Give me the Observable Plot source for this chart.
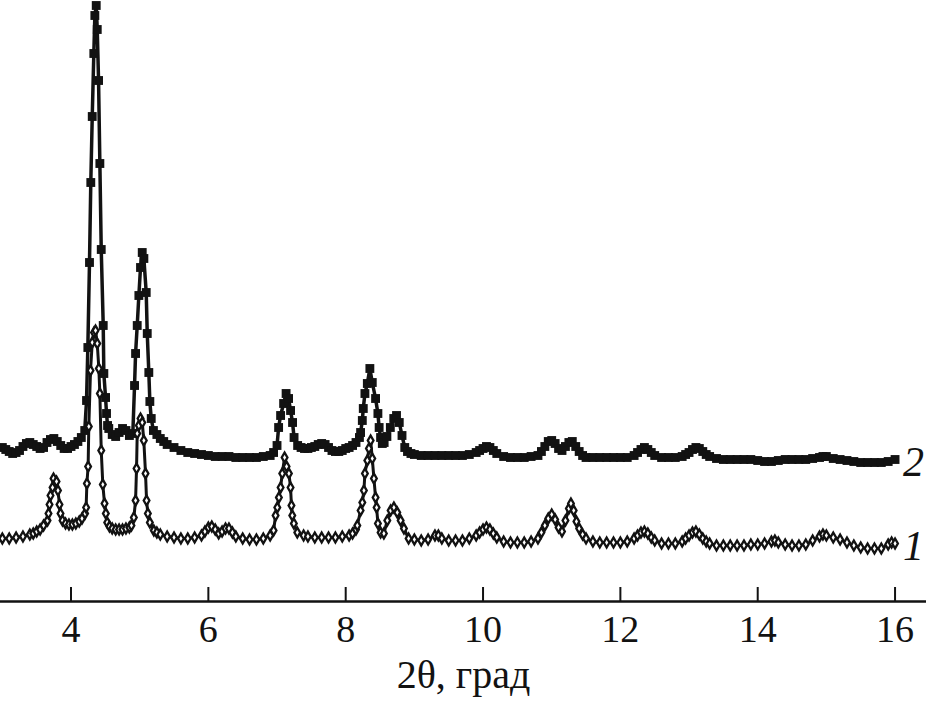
<!DOCTYPE html>
<html><head><meta charset="utf-8">
<script src="https://cdn.jsdelivr.net/npm/d3@7"></script>
<script src="https://cdn.jsdelivr.net/npm/@observablehq/plot@0.6"></script>
<style>body{margin:0;background:#fff;} #chart svg{display:block;}</style>
</head><body><div id="chart"></div>
<script>
// Curve 2 (filled squares): 2θ (deg) and intensity (arb. units)
const theta2 = [3.00,3.05,3.10,3.15,3.20,3.25,3.30,3.35,3.40,3.45,3.50,3.55,3.60,3.65,3.70,3.75,3.80,3.85,3.90,3.95,4.00,4.05,4.10,4.15,4.20,
4.226,4.245,4.269,4.288,4.309,4.332,4.347,4.367,4.382,4.401,4.420,4.440,4.469,4.478,4.503,4.517,4.532,
4.55,4.60,4.65,4.70,4.75,4.80,4.85,4.90,
4.925,4.940,4.964,4.988,5.012,5.037,5.061,5.095,5.110,5.133,5.148,5.168,5.20,
5.25,5.30,5.35,5.40,5.50,5.60,5.70,5.80,5.90,6.00,6.10,6.20,6.30,6.40,6.50,6.60,6.70,6.80,6.90,6.95,7.00,
7.023,7.052,7.096,7.132,7.168,7.197,7.226,7.248,
7.30,7.35,7.40,7.45,7.50,7.55,7.60,7.65,7.70,7.75,7.80,7.85,7.90,7.95,8.00,8.05,8.10,8.15,8.20,
8.217,8.242,8.256,8.280,8.315,8.352,8.387,8.435,8.469,8.487,8.508,8.533,
8.56,8.60,8.65,8.70,8.74,8.78,8.82,8.86,8.90,8.95,9.0,9.1,9.2,9.3,9.4,9.5,9.6,9.7,9.8,9.9,9.95,10.0,10.05,10.1,10.15,10.2,
10.3,10.4,10.5,10.6,10.7,10.8,10.85,10.9,10.95,11.0,11.05,11.1,11.15,11.2,11.25,11.3,11.35,11.4,11.45,11.5,
11.6,11.7,11.8,11.9,12.0,12.1,12.2,12.25,12.3,12.35,12.4,12.45,12.5,12.6,12.7,12.8,12.9,12.95,13.0,13.05,13.1,13.15,13.2,13.25,13.3,
13.4,13.5,13.6,13.7,13.8,13.9,14.0,14.1,14.2,14.3,14.4,14.5,14.6,14.7,14.8,14.9,14.95,15.0,15.1,15.2,15.3,15.4,15.5,15.6,15.7,15.8,15.9,16.0];
const int2 = [154,152,150,148,149,151,155,158,159,157,155,153,154,159,162,163,160,156,153,153,155,157,160,164,171,
201,254,339,419,485,548,586,596,572,521,438,352,276,228,204,188,176,
173,167,165,169,173,171,166,168,
216,248,276,306,334,349,343,309,268,229,200,183,171,
167,163,160,157,154,151,149,148,147,146,145,145,145,144,144,144,144,145,146,149,156,
174,186,198,208,203,191,179,164,
156,154,153,153,154,155,157,158,157,154,151,150,150,151,153,154,156,159,164,
169,181,193,208,218,233,219,203,188,174,164,158,
159,165,174,183,186,179,166,154,150,148,147,146,146,146,146,146,146,146,147,149,151,153,155,154,151,148,
145,144,144,144,145,146,150,155,160,161,158,153,151,155,159,160,155,150,146,144,
144,144,144,144,144,144,146,149,152,154,152,149,146,144,144,144,145,147,149,152,154,153,150,147,145,
143,142,142,142,142,142,141,140,140,141,142,142,142,142,143,144,145,145,143,142,141,140,139,139,139,139,140,142];

// Curve 1 (open diamonds)
const theta1 = [3.00,3.1,3.2,3.3,3.4,3.45,3.5,3.55,3.6,3.658,3.672,3.687,3.701,3.731,3.745,3.789,3.81,3.832,3.847,3.876,
3.92,3.97,4.02,4.07,4.12,4.16,4.205,4.220,4.231,4.249,4.259,4.284,4.309,4.335,4.357,4.382,4.405,4.420,4.440,4.463,4.488,4.507,4.527,
4.56,4.6,4.65,4.7,4.75,4.8,4.85,4.88,4.915,4.940,4.954,4.964,4.988,5.012,5.037,5.060,5.085,5.100,5.119,5.148,5.206,
5.25,5.3,5.4,5.5,5.6,5.7,5.8,5.9,5.95,6.0,6.05,6.1,6.15,6.2,6.25,6.3,6.35,6.4,6.5,6.6,6.7,6.8,6.9,6.95,
6.979,7.004,7.027,7.052,7.076,7.110,7.139,7.173,7.197,7.21,7.222,7.245,7.295,7.387,
7.45,7.55,7.65,7.75,7.85,7.95,8.05,8.1,8.15,8.169,8.217,8.242,8.265,8.280,8.315,8.338,8.363,8.387,8.411,8.435,8.450,8.469,8.508,
8.556,8.606,8.654,8.702,8.751,8.800,8.848,8.916,9.0,9.1,9.2,9.3,9.35,9.4,9.5,9.6,9.7,9.8,9.9,9.95,10.0,10.05,10.1,10.15,10.2,
10.3,10.4,10.5,10.6,10.7,10.8,10.85,10.9,10.95,11.0,11.05,11.1,11.15,11.2,11.25,11.28,11.32,11.36,11.4,11.45,11.5,
11.6,11.7,11.8,11.9,12.0,12.1,12.2,12.25,12.3,12.35,12.4,12.45,12.5,12.6,12.7,12.8,12.9,12.95,13.0,13.05,13.1,13.15,13.2,13.25,13.3,
13.4,13.5,13.6,13.7,13.8,13.9,14.0,14.1,14.2,14.25,14.3,14.4,14.5,14.6,14.7,14.8,14.9,14.95,15.0,15.1,15.2,15.3,15.4,15.5,15.6,15.7,15.8,15.9,15.95,16.0];
const int1 = [63,63,64,65,67,68,70,72,76,81,88,97,106,114,123,120,111,97,88,81,
78,77,77,78,80,83,88,94,118,135,175,231,259,269,271,258,233,208,151,117,98,88,79,
75,73,72,72,72,73,74,76,84,101,133,168,176,183,179,161,128,101,88,79,71,
69,67,65,64,63,63,64,66,70,74,75,72,68,70,73,73,69,65,63,62,62,63,66,71,
86,94,104,114,128,144,135,128,114,96,86,78,69,66,
65,64,64,64,64,65,66,68,72,76,91,99,111,128,141,153,161,143,123,104,94,78,69,
68,81,91,94,89,81,73,63,62,61,62,66,66,63,61,61,61,63,66,69,72,74,72,68,64,
60,59,59,59,60,63,69,76,83,87,82,74,70,81,93,98,91,80,73,67,63,
60,59,59,59,59,60,63,66,69,70,68,64,61,58,58,58,60,63,66,69,70,67,63,60,58,
56,56,56,56,56,57,57,58,60,61,59,57,56,56,57,61,65,67,66,64,62,59,56,54,53,53,53,57,59,58];

const xTicks = [4, 6, 8, 10, 12, 14, 16];
const xLabel = "2θ, град";
const curveNames = ["2", "1"];

const s2 = theta2.map((t, i) => ({t, v: int2[i]}));
const s1 = theta1.map((t, i) => ({t, v: int1[i]}));
const ends = [{...s2[s2.length - 1], name: curveNames[0]}, {...s1[s1.length - 1], name: curveNames[1]}];

const ink = "#121212";
const chart = Plot.plot({
  width: 926, height: 703,
  marginTop: 0, marginLeft: 0, marginRight: 0, marginBottom: 102,
  x: {domain: [2.973, 16.458]},
  y: {domain: [0, 601], axis: null},
  style: {fontFamily: "'Liberation Serif', 'Times New Roman', serif", background: "#fff", color: ink},
  marks: [
    Plot.ruleY([0], {stroke: ink, strokeWidth: 2.5}),
    Plot.ruleX(xTicks, {y1: 0, y2: 14, stroke: ink, strokeWidth: 2}),
    Plot.axisX({ticks: xTicks, tickSize: 0, tickPadding: 14, fontSize: 38, tickFormat: d => String(d), label: null}),
    Plot.line(s2, {x: "t", y: "v", stroke: ink, strokeWidth: 3.5}),
    Plot.dot(s2, {x: "t", y: "v", symbol: "square", r: 5, fill: ink, stroke: "none"}),
    Plot.line(s1, {x: "t", y: "v", stroke: ink, strokeWidth: 3}),
    Plot.dot(s1, {x: "t", y: "v", symbol: "diamond", r: 3, fill: "#fff", stroke: ink, strokeWidth: 2.3}),
    Plot.text([xLabel], {text: d => d, frameAnchor: "bottom", dy: 86, fontSize: 40}),
    Plot.text(ends, {x: "t", y: "v", text: "name", dx: 8, dy: 3, textAnchor: "start", fontSize: 42, fontStyle: "italic"})
  ]
});
document.getElementById("chart").append(chart);
</script>
</body></html>
